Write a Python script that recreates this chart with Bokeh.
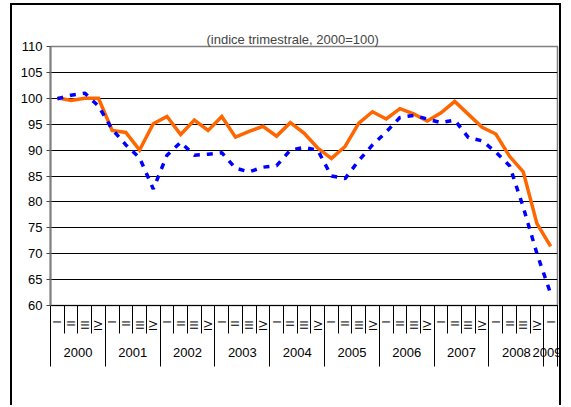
import math
from bokeh.plotting import figure
from bokeh.models import Range1d, FixedTicker, LinearAxis, Legend, LegendItem, Title
from bokeh.embed import file_html
from bokeh.resources import INLINE

FONT = "Liberation Sans"

years = ["2000", "2001", "2002", "2003", "2004", "2005", "2006", "2007", "2008", "2009"]
quarter_names = ["I", "II", "III", "IV"]
quarter_labels = quarter_names * 9 + ["I"]

mezzogiorno = [100.1, 99.6, 100.0, 100.0, 93.8, 93.4, 90.0, 95.1, 96.5, 93.0,
               95.8, 93.8, 96.5, 92.5, 93.6, 94.6, 92.7, 95.3, 93.3, 90.4,
               88.4, 90.7, 95.2, 97.4, 96.0, 98.0, 97.0, 95.6, 97.2, 99.4,
               96.9, 94.4, 93.1, 88.8, 85.8, 75.8, 71.4]
centro_nord = [99.9, 100.6, 101.0, 98.5, 94.0, 91.0, 88.5, 82.5, 89.0, 91.5,
               89.0, 89.2, 89.5, 86.5, 85.8, 86.7, 87.0, 90.0, 90.5, 90.0,
               85.0, 84.5, 88.0, 91.0, 93.5, 96.3, 96.7, 96.0, 95.3, 95.8,
               92.4, 91.8, 89.6, 87.0, 79.0, 70.0, 62.3]
y_ticks = [60, 65, 70, 75, 80, 85, 90, 95, 100, 105, 110]
title_text = "(indice trimestrale, 2000=100)"

n = len(mezzogiorno)
xs = list(range(n))
q_bounds = [i - 0.5 for i in range(n + 1)]
year_idx = [sum(1 for q in quarter_labels[:i + 1] if q == "I") - 1 for i in range(n)]
year_pos = []
year_bounds = []
for k, y in enumerate(years):
    members = [i for i in range(n) if year_idx[i] == k]
    year_pos.append(sum(members) / len(members))
    year_bounds.append(members[0] - 0.5)
year_bounds.append(n - 0.5)

p = figure(width=561, height=405, title_location=None,
           x_range=Range1d(-0.5, n - 0.5), y_range=Range1d(min(y_ticks), max(y_ticks)),
           output_backend="svg", toolbar_location=None,
           min_border_left=50, min_border_right=4, min_border_top=46, min_border_bottom=100)
p.border_fill_color = None
p.background_fill_color = "white"
p.outline_line_color = "#808080"
p.outline_line_width = 1.5
p.styles = {"box-shadow": ("inset 0 3px 0 0 #fff, inset 10px 0 0 0 #fff, "
                           "inset 0 5px 0 0 #000, inset 12px 0 0 0 #000, "
                           "inset -2px 0 0 0 #000")}

# y axis
ya = p.left[0]
ya.ticker = FixedTicker(ticks=y_ticks)
ya.major_label_text_font = FONT
ya.major_label_text_font_size = "13px"
ya.major_label_text_color = "black"
ya.major_tick_out = 4
ya.major_tick_in = 0
ya.major_tick_line_color = "#444"
ya.minor_tick_line_color = None
ya.axis_line_color = "#808080"
ya.axis_line_width = 2
ya.major_label_standoff = 4

p.xgrid.visible = False
p.ygrid.ticker = FixedTicker(ticks=y_ticks)
p.ygrid.grid_line_color = "black"
p.ygrid.grid_line_width = 1

# quarter axis (the figure's own x axis, below)
xa = p.below[0]
xa.ticker = FixedTicker(ticks=xs, minor_ticks=q_bounds)
xa.major_label_overrides = {i: q for i, q in zip(xs, quarter_labels)}
xa.major_label_orientation = math.pi / 2
xa.major_label_text_font = FONT
xa.major_label_text_font_size = "11px"
xa.major_label_text_color = "black"
xa.major_label_standoff = -13
xa.major_tick_out = 0
xa.major_tick_in = 0
xa.major_tick_line_color = None
xa.minor_tick_out = 28
xa.minor_tick_in = 0
xa.minor_tick_line_color = "black"
xa.axis_line_color = "black"
xa.axis_line_width = 1

# year axis
xb = LinearAxis(ticker=FixedTicker(ticks=year_pos, minor_ticks=year_bounds))
xb.major_label_overrides = {pos: y for pos, y in zip(year_pos, years)}
xb.major_label_text_font = FONT
xb.major_label_text_font_size = "13px"
xb.major_label_text_color = "black"
xb.major_label_standoff = -19
xb.major_tick_out = 0
xb.major_tick_in = 0
xb.major_tick_line_color = None
xb.minor_tick_out = 33
xb.minor_tick_in = 27
xb.minor_tick_line_color = "black"
xb.axis_line_color = None
p.add_layout(xb, "below")

# spacer between frame and title (it has no ticks, so it draws nothing)
spacer = LinearAxis(ticker=FixedTicker(ticks=[]), major_tick_out=22, major_tick_in=0,
                    minor_tick_out=0, minor_tick_in=0, major_label_standoff=0,
                    major_tick_line_color="white", minor_tick_line_color="white",
                    axis_line_color=None)
p.add_layout(spacer, "above")

title = Title(text=title_text, text_font=FONT, text_font_size="13px",
              text_font_style="normal", align="left", offset=156,
              vertical_align="bottom", standoff=0)
p.add_layout(title, "above")

r1 = p.line(xs, mezzogiorno, line_color="#FF6600", line_width=3.5, line_join="miter")
r2 = p.line(xs, centro_nord, line_color="#0000FF", line_width=3.5, line_dash="6 7")

legend = Legend(items=[LegendItem(label="Mezzogiorno", renderers=[r1]),
                       LegendItem(label="Centro-Nord", renderers=[r2])],
                orientation="horizontal", location=(128, -92), margin=0, padding=4,
                spacing=8, glyph_width=43, glyph_height=16, label_height=16,
                label_standoff=5, label_text_font=FONT, label_text_font_size="13px",
                border_line_color="black", border_line_width=1,
                background_fill_color="white", background_fill_alpha=1)
p.add_layout(legend)

open("out.html", "w").write(file_html(p, INLINE))
